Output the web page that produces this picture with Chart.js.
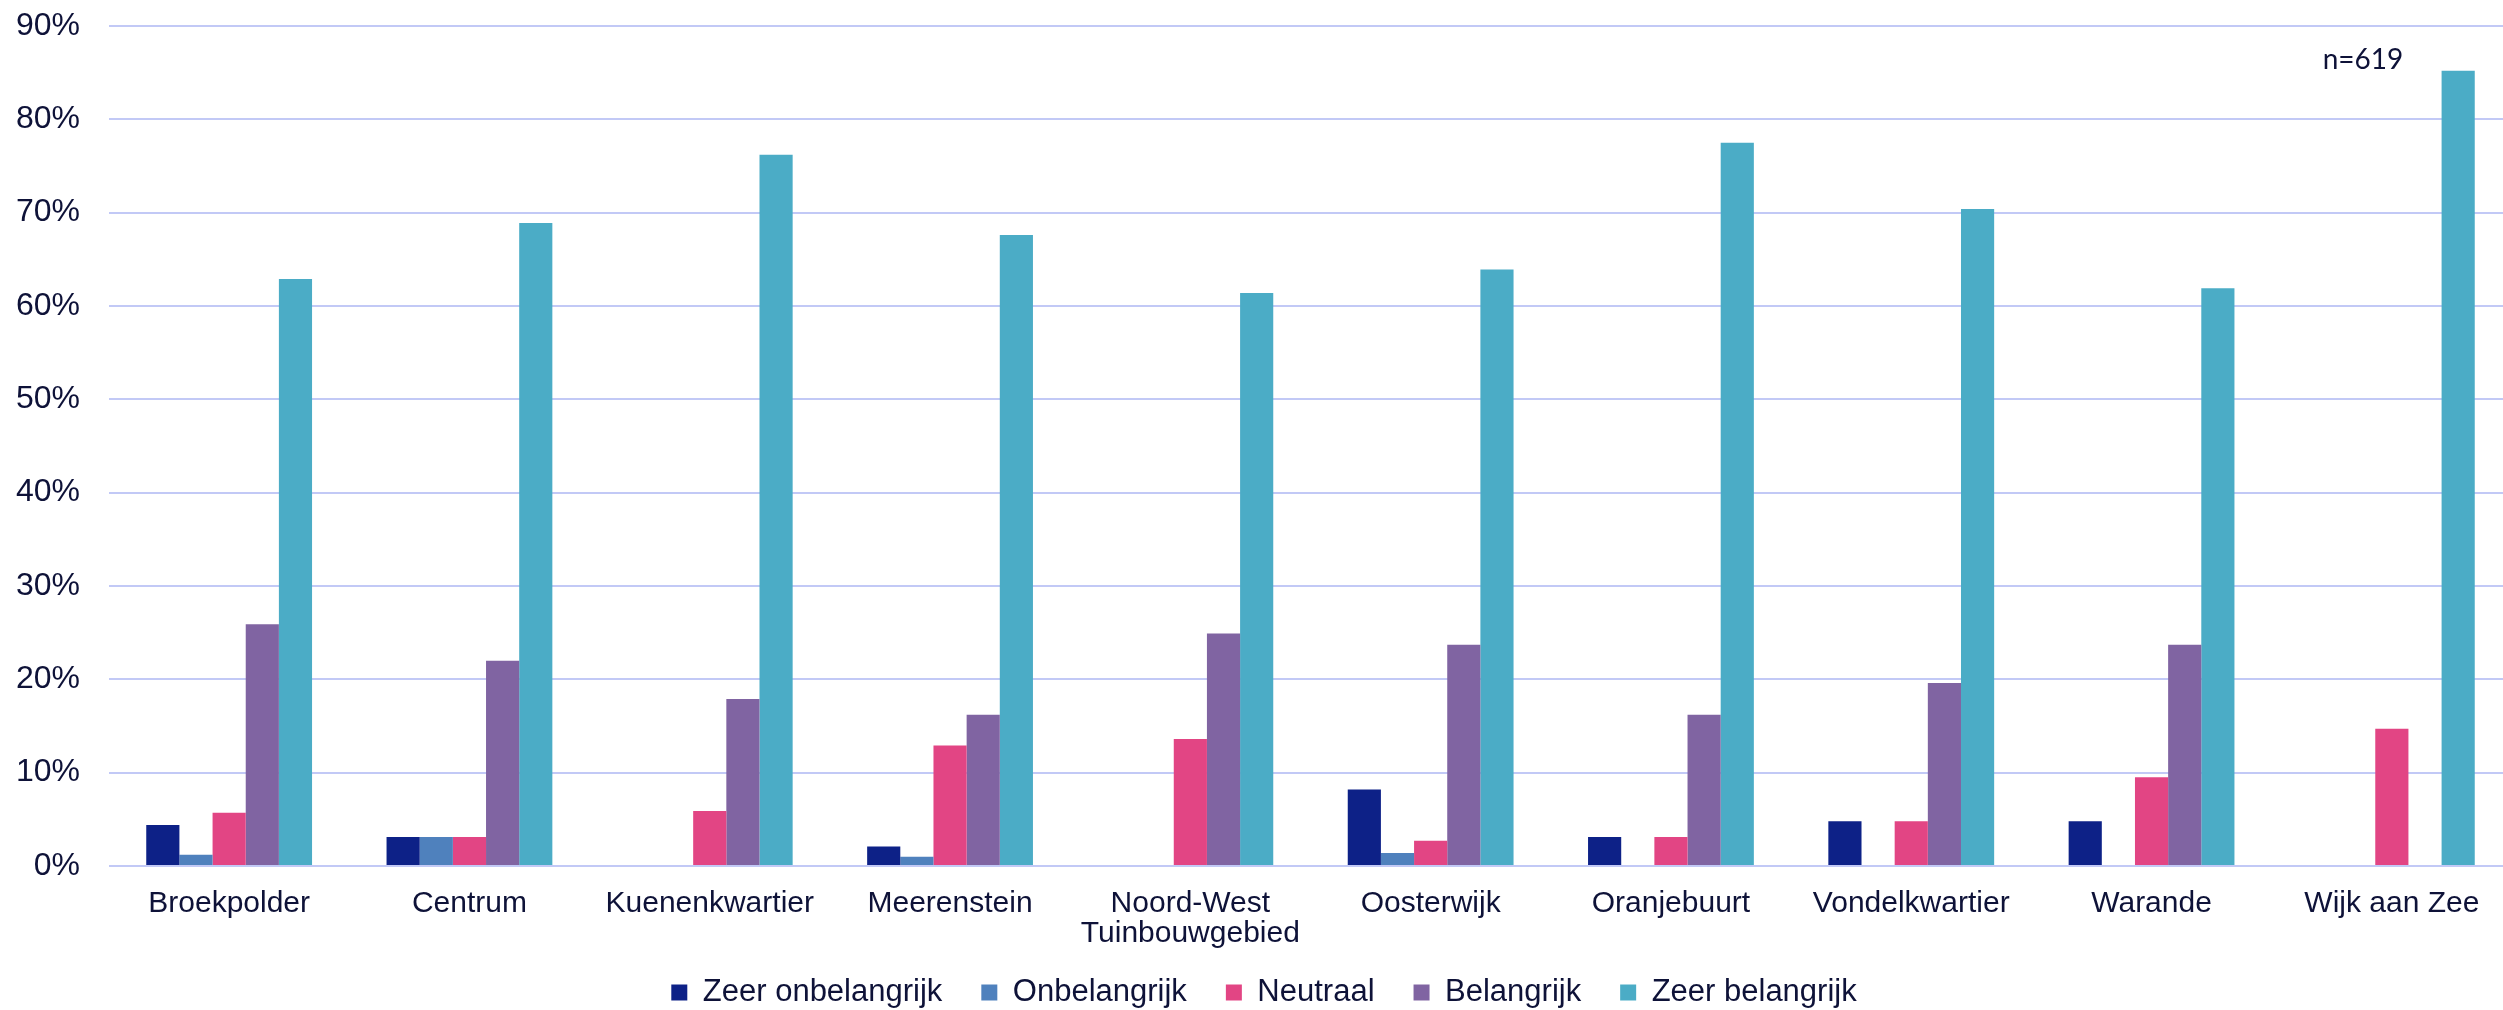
<!DOCTYPE html>
<html>
<head>
<meta charset="utf-8">
<script src="https://cdn.jsdelivr.net/npm/chart.js@4.4.0/dist/chart.umd.min.js"></script>
<style>
  html, body { margin: 0; padding: 0; background: #fff; overflow: hidden; }
  #wrap { width: 2512px; height: 1010px; }
</style>
</head>
<body>
<div id="wrap"><canvas id="chart"></canvas></div>
<script>
// Belang per wijk (% van respondenten)
const wijken = ['Broekpolder', 'Centrum', 'Kuenenkwartier', 'Meerenstein', ['Noord-West', 'Tuinbouwgebied'],
                'Oosterwijk', 'Oranjebuurt', 'Vondelkwartier', 'Warande', 'Wijk aan Zee'];

const zeerOnbelangrijk = [4.4, 3.1, 0,    2.1,  0,    8.2, 3.1, 4.8,  4.8,  0];
const onbelangrijk     = [1.2, 3.1, 0,    1.0,  0,    1.4, 0,   0,    0,    0];
const neutraal         = [5.7, 3.1, 5.9,  12.9, 13.6, 2.7, 3.1, 4.8,  9.5,  14.7];
const belangrijk       = [25.9, 22.0, 17.9, 16.2, 24.9, 23.7, 16.2, 19.6, 23.7, 0];
const zeerBelangrijk   = [62.9, 68.9, 76.2, 67.6, 61.4, 63.9, 77.5, 70.4, 61.9, 85.2];

const yMax   = 90;
const yStep  = 10;
const nLabel = 'n=619';

const TEXT = '#0e1238';

// n=619 boven de laatste groep
const nLabelPlugin = {
  id: 'nLabel',
  afterDraw(chart) {
    const { ctx, scales: { x, y } } = chart;
    const cw = x.getPixelForValue(1) - x.getPixelForValue(0);
    ctx.save();
    ctx.font = '28px Lato';
    ctx.fillStyle = TEXT;
    ctx.textAlign = 'center';
    ctx.textBaseline = 'middle';
    ctx.fillText(nLabel, x.getPixelForValue(wijken.length - 1) - cw * 0.12, y.getPixelForValue(86.4));
    ctx.restore();
  }
};

// legenda compacter dan Chart.js standaard (padding geldt anders ook verticaal)
const legendFit = {
  id: 'legendFit',
  beforeInit(chart) {
    if (!chart.legend) return;
    const fit = chart.legend.fit;
    chart.legend.fit = function () { fit.call(this); this.height = 62; };
  },
  afterLayout(chart) {
    const l = chart.legend;
    if (!l) return;
    l.top -= 10;
    l.height += 10;
  }
};

new Chart(document.getElementById('chart'), {
  type: 'bar',
  data: {
    labels: wijken,
    datasets: [
      { label: 'Zeer onbelangrijk', data: zeerOnbelangrijk, backgroundColor: '#0d2187' },
      { label: 'Onbelangrijk',      data: onbelangrijk,     backgroundColor: '#4f81bd' },
      { label: 'Neutraal',          data: neutraal,         backgroundColor: '#e24584' },
      { label: 'Belangrijk',        data: belangrijk,       backgroundColor: '#8064a2' },
      { label: 'Zeer belangrijk',   data: zeerBelangrijk,   backgroundColor: '#4bacc6' },
    ]
  },
  options: {
    responsive: true, maintainAspectRatio: false,
    animation: false,
    layout: { padding: { top: 26, left: 16, right: 0, bottom: 0 } },
    datasets: { bar: { barPercentage: 1, categoryPercentage: 0.69 } },
    plugins: {
      tooltip: { enabled: false },
      legend: {
        position: 'bottom',
        labels: {
          color: TEXT,
          font: { family: 'Liberation Sans', size: 31 },
          boxWidth: 16, boxHeight: 16,
          padding: 39,
        }
      }
    },
    scales: {
      x: {
        grid: { display: false },
        border: { display: false },
        ticks: { color: TEXT, font: { family: 'Liberation Sans', size: 30, lineHeight: 1.0 }, padding: 15,
                 maxRotation: 0, autoSkip: false },
        afterFit(s) { s.height = 82; }
      },
      y: {
        min: 0, max: yMax,
        border: { display: false },
        grid: { color: '#c2c9f6', lineWidth: 2, drawTicks: false },
        ticks: { stepSize: yStep, color: TEXT, font: { family: 'Liberation Sans', size: 32 }, padding: 29,
                 callback: v => v + '%' },
        afterFit(s) { s.width = 93; s.paddingTop = 0; s.paddingBottom = 0; }
      }
    }
  },
  plugins: [nLabelPlugin, legendFit]
});
</script>
</body>
</html>
